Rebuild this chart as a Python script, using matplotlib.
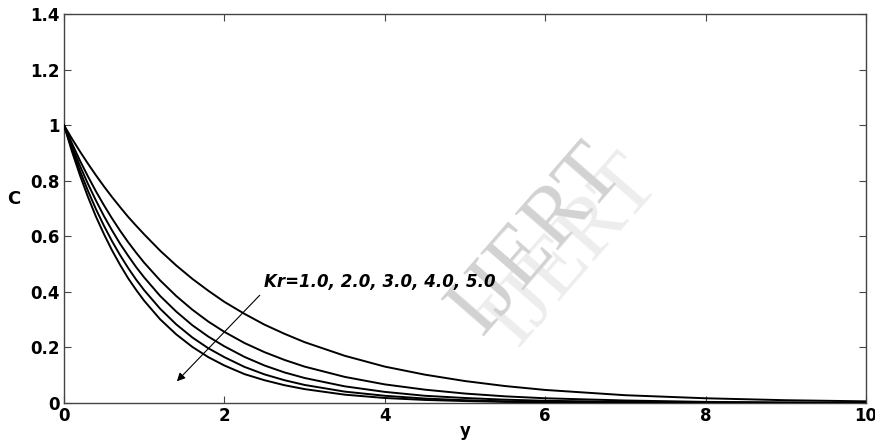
import numpy as np
import matplotlib
matplotlib.use("Agg")
import matplotlib.pyplot as plt

# values
y_pts = [0, 0.1, 0.2, 0.3, 0.4, 0.5, 0.6, 0.7, 0.8, 0.9, 1.0, 1.2, 1.4, 1.6, 1.8, 2.0,
         2.25, 2.5, 2.75, 3.0, 3.5, 4.0, 4.5, 5.0, 5.5, 6.0, 7.0, 8.0, 9.0, 10.0]
c_kr1 = [1.0, 0.951, 0.905, 0.861, 0.819, 0.779, 0.741, 0.705, 0.670, 0.638, 0.607,
         0.548, 0.495, 0.447, 0.404, 0.364, 0.321, 0.282, 0.249, 0.219, 0.170, 0.131,
         0.102, 0.079, 0.061, 0.047, 0.028, 0.017, 0.010, 0.006]
c_kr2 = [1.0, 0.934, 0.872, 0.815, 0.761, 0.711, 0.664, 0.620, 0.579, 0.541, 0.505,
         0.441, 0.385, 0.336, 0.293, 0.256, 0.216, 0.183, 0.155, 0.131, 0.094, 0.067,
         0.048, 0.034, 0.024, 0.017, 0.009, 0.004, 0.002, 0.001]
c_kr3 = [1.0, 0.924, 0.853, 0.788, 0.728, 0.672, 0.621, 0.573, 0.530, 0.489, 0.452,
         0.385, 0.329, 0.280, 0.239, 0.204, 0.166, 0.135, 0.110, 0.090, 0.060, 0.040,
         0.026, 0.018, 0.012, 0.008, 0.004, 0.002, 0.001, 0.000]
c_kr4 = [1.0, 0.914, 0.835, 0.763, 0.697, 0.637, 0.582, 0.532, 0.486, 0.444, 0.406,
         0.339, 0.283, 0.236, 0.197, 0.165, 0.130, 0.103, 0.082, 0.065, 0.041, 0.026,
         0.016, 0.010, 0.006, 0.004, 0.002, 0.001, 0.000, 0.000]
c_kr5 = [1.0, 0.905, 0.819, 0.741, 0.670, 0.607, 0.549, 0.497, 0.449, 0.407, 0.368,
         0.301, 0.247, 0.202, 0.165, 0.135, 0.104, 0.082, 0.064, 0.050, 0.030, 0.018,
         0.011, 0.007, 0.004, 0.003, 0.001, 0.000, 0.000, 0.000]
curves = [c_kr1, c_kr2, c_kr3, c_kr4, c_kr5]

x_ticks = [0, 2, 4, 6, 8, 10]
y_ticks = [0, 0.2, 0.4, 0.6, 0.8, 1.0, 1.2, 1.4]
y_tick_labels = ['0', '0.2', '0.4', '0.6', '0.8', '1', '1.2', '1.4']

fig = plt.figure(figsize=(8.75, 4.43), dpi=100)
ax = fig.add_axes([0.0731, 0.0903, 0.9166, 0.8781])

for c in curves:
    ax.plot(y_pts, c, color='black', linewidth=1.4, zorder=3)

ax.set_xlim(0, 10)
ax.set_ylim(0, 1.4)
ax.set_xticks(x_ticks)
ax.set_yticks(y_ticks)
ax.set_yticklabels(y_tick_labels)
ax.tick_params(direction='in', top=True, right=True, length=5, width=0.8,
               color='#444444', labelsize=12, pad=3)
for lbl in ax.get_xticklabels() + ax.get_yticklabels():
    lbl.set_fontweight('heavy')
for s in ax.spines.values():
    s.set_color('#444444')
    s.set_linewidth(1.0)

ax.set_xlabel('y', fontweight='heavy', fontsize=12, labelpad=-2)
ax.set_ylabel('C', fontweight='heavy', fontsize=13, rotation=0)
ax.yaxis.set_label_coords(-0.063, 0.50)

# watermark
ax.text(0.635, 0.39, 'IJERT', transform=ax.transAxes, fontsize=62,
        family='Liberation Serif', color='#ededed', rotation=49,
        ha='center', va='center', zorder=0)
ax.text(0.59, 0.42, 'IJERT', transform=ax.transAxes, fontsize=62,
        family='Liberation Serif', color='#d2d2d2', rotation=49,
        ha='center', va='center', zorder=0)

ax.annotate('', xy=(1.384, 0.071), xytext=(2.465, 0.395),
            arrowprops=dict(arrowstyle='-|>', color='black', lw=0.8,
                            mutation_scale=12), zorder=4)
ax.text(2.5, 0.435, 'Kr=1.0, 2.0, 3.0, 4.0, 5.0', fontsize=12,
        fontweight='heavy', fontstyle='italic', ha='left', va='center', zorder=4)

fig.savefig('out.png', dpi=100)
